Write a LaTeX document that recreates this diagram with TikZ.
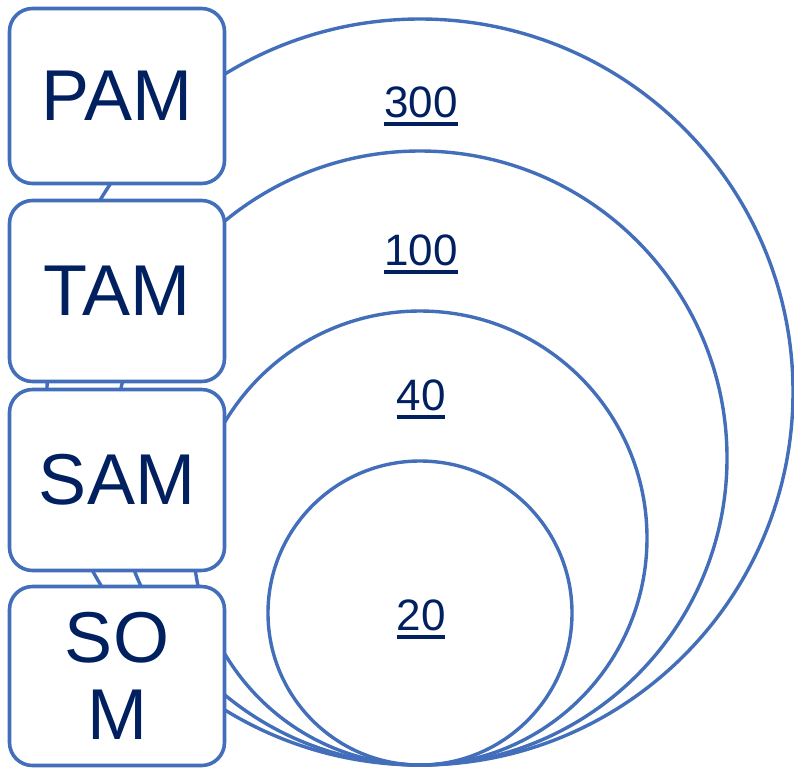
\documentclass[tikz,border=0pt]{standalone}
\usepackage{fontspec}
\setmainfont{Liberation Sans}
\definecolor{ringblue}{RGB}{66,110,186}
\definecolor{navy}{RGB}{0,32,96}
% underlined figure with a heavy rule below the baseline
\newcommand{\ulnum}[1]{\setbox0\hbox{#1}\rlap{\rule[-9pt]{\wd0}{3.6pt}}\box0}
\begin{document}
\begin{tikzpicture}[x=1pt,y=-1pt,
  ring/.style={circle,draw=ringblue,line width=3.4pt,inner sep=0pt},
  tier/.style={draw=ringblue,fill=white,line width=3.6pt,rounded corners=23pt,
    minimum width=215pt,text=navy,align=center,inner sep=0pt,
    font=\fontsize{72}{77}\selectfont},
  figure/.style={text=navy,inner sep=0pt,anchor=base,font=\fontsize{44}{50}\selectfont}]
\useasboundingbox (0,0) rectangle (794,769);
% nested market circles, all touching at the bottom
\node[ring,minimum size=746pt] (c300) at (420,392) {};
\node[ring,minimum size=614pt] (c100) at (420,458) {};
\node[ring,minimum size=454pt] (c40) at (420,538) {};
\node[ring,minimum size=304pt] (c20) at (420,613) {};
% figures inside each circle
\node[figure] (n300) at (421,117) {\ulnum{300}};
\node[figure] (n100) at (421,265) {\ulnum{100}};
\node[figure] (n40) at (421,410) {\ulnum{40}};
\node[figure] (n20) at (421,630) {\ulnum{20}};
% tier boxes drawn over the circles
\node[tier,minimum height=175pt] (pam) at (117,96) {PAM};
\node[tier,minimum height=181pt] (tam) at (117,291) {TAM};
\node[tier,minimum height=181pt] (sam) at (117,480) {SAM};
\node[tier,minimum height=179pt] (som) at (117,676) {SO\\M};
\end{tikzpicture}
\end{document}
